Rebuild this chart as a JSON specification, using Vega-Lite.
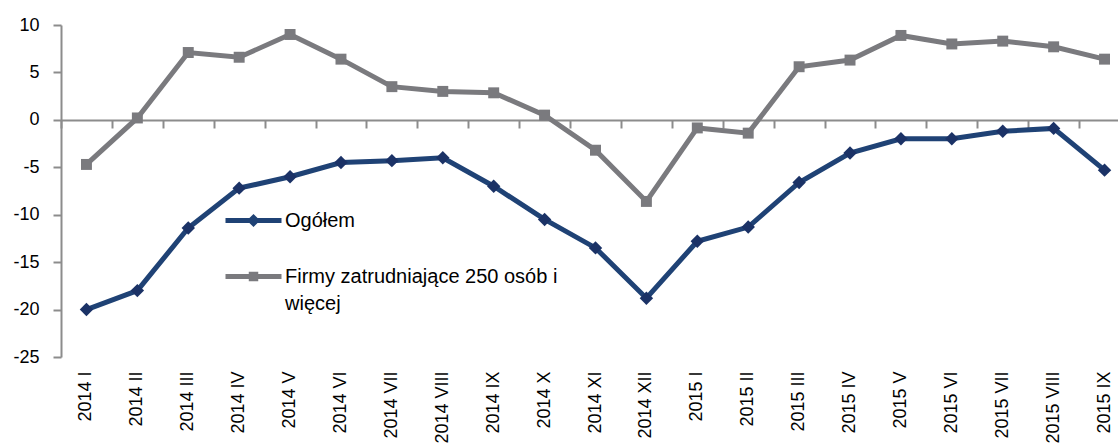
{
  "$schema": "https://vega.github.io/schema/vega-lite/v6.json",
  "autosize": {"type": "none"},
  "padding": {"left": 61, "top": 25, "right": 0, "bottom": 91},
  "width": 1057,
  "height": 332,
  "config": {
    "view": {"stroke": null},
    "font": "Liberation Sans",
    "axis": {"labelFont": "Liberation Sans", "labelFontSize": 18, "labelColor": "#000000", "domainColor": "#8C8C8C", "tickColor": "#8C8C8C", "domainWidth": 2, "tickWidth": 2, "grid": false, "title": null},
    "legend": {"labelFont": "Liberation Sans"}
  },
  "data": {
    "values": [
      {"m": "2014 I", "s": "Ogółem", "v": -20.0},
      {"m": "2014 II", "s": "Ogółem", "v": -18.0},
      {"m": "2014 III", "s": "Ogółem", "v": -11.4},
      {"m": "2014 IV", "s": "Ogółem", "v": -7.2},
      {"m": "2014 V", "s": "Ogółem", "v": -6.0},
      {"m": "2014 VI", "s": "Ogółem", "v": -4.5},
      {"m": "2014 VII", "s": "Ogółem", "v": -4.3},
      {"m": "2014 VIII", "s": "Ogółem", "v": -4.0},
      {"m": "2014 IX", "s": "Ogółem", "v": -7.0},
      {"m": "2014 X", "s": "Ogółem", "v": -10.5},
      {"m": "2014 XI", "s": "Ogółem", "v": -13.5},
      {"m": "2014 XII", "s": "Ogółem", "v": -18.8},
      {"m": "2015 I", "s": "Ogółem", "v": -12.8},
      {"m": "2015 II", "s": "Ogółem", "v": -11.3},
      {"m": "2015 III", "s": "Ogółem", "v": -6.6},
      {"m": "2015 IV", "s": "Ogółem", "v": -3.5},
      {"m": "2015 V", "s": "Ogółem", "v": -2.0},
      {"m": "2015 VI", "s": "Ogółem", "v": -2.0},
      {"m": "2015 VII", "s": "Ogółem", "v": -1.2},
      {"m": "2015 VIII", "s": "Ogółem", "v": -0.9},
      {"m": "2015 IX", "s": "Ogółem", "v": -5.3},
      {"m": "2014 I", "s": "Firmy zatrudniające 250 osób i więcej", "v": -4.7},
      {"m": "2014 II", "s": "Firmy zatrudniające 250 osób i więcej", "v": 0.2},
      {"m": "2014 III", "s": "Firmy zatrudniające 250 osób i więcej", "v": 7.1},
      {"m": "2014 IV", "s": "Firmy zatrudniające 250 osób i więcej", "v": 6.6},
      {"m": "2014 V", "s": "Firmy zatrudniające 250 osób i więcej", "v": 9.0},
      {"m": "2014 VI", "s": "Firmy zatrudniające 250 osób i więcej", "v": 6.4},
      {"m": "2014 VII", "s": "Firmy zatrudniające 250 osób i więcej", "v": 3.5},
      {"m": "2014 VIII", "s": "Firmy zatrudniające 250 osób i więcej", "v": 3.0},
      {"m": "2014 IX", "s": "Firmy zatrudniające 250 osób i więcej", "v": 2.85},
      {"m": "2014 X", "s": "Firmy zatrudniające 250 osób i więcej", "v": 0.5},
      {"m": "2014 XI", "s": "Firmy zatrudniające 250 osób i więcej", "v": -3.2},
      {"m": "2014 XII", "s": "Firmy zatrudniające 250 osób i więcej", "v": -8.6},
      {"m": "2015 I", "s": "Firmy zatrudniające 250 osób i więcej", "v": -0.85},
      {"m": "2015 II", "s": "Firmy zatrudniające 250 osób i więcej", "v": -1.4},
      {"m": "2015 III", "s": "Firmy zatrudniające 250 osób i więcej", "v": 5.6},
      {"m": "2015 IV", "s": "Firmy zatrudniające 250 osób i więcej", "v": 6.3},
      {"m": "2015 V", "s": "Firmy zatrudniające 250 osób i więcej", "v": 8.9},
      {"m": "2015 VI", "s": "Firmy zatrudniające 250 osób i więcej", "v": 8.0},
      {"m": "2015 VII", "s": "Firmy zatrudniające 250 osób i więcej", "v": 8.3},
      {"m": "2015 VIII", "s": "Firmy zatrudniające 250 osób i więcej", "v": 7.7},
      {"m": "2015 IX", "s": "Firmy zatrudniające 250 osób i więcej", "v": 6.4}
    ]
  },
  "resolve": {"axis": {"x": "independent"}},
  "layer": [
    {
      "mark": {"type": "line", "strokeWidth": 5, "strokeJoin": "miter"},
      "encoding": {
        "x": {
          "field": "m", "type": "ordinal", "sort": null, "bandPosition": 0.5,
          "scale": {"type": "band", "paddingInner": 0, "paddingOuter": 0, "range": [0, 1069]},
          "axis": {"orient": "bottom", "domain": false, "ticks": false, "labelAngle": -90, "labelPadding": 14}
        },
        "y": {
          "field": "v", "type": "quantitative",
          "scale": {"domain": [-25, 10], "nice": false, "zero": false},
          "axis": {"values": [-25, -20, -15, -10, -5, 0, 5, 10], "tickSize": 8, "labelPadding": 14, "labelExpr": "toString(datum.value)"}
        },
        "color": {
          "field": "s", "type": "nominal",
          "scale": {"domain": ["Ogółem", "Firmy zatrudniające 250 osób i więcej"], "range": ["#1F4275", "#7A7A7E"]},
          "legend": {
            "title": null, "orient": "none", "legendX": 162, "legendY": 165, "padding": 0,
            "symbolSize": 3136, "symbolStrokeWidth": 5, "rowPadding": 12, "labelOffset": 1,
            "labelFontSize": 20, "labelColor": "#000000", "labelLimit": 600, "labelBaseline": "middle",
            "labelExpr": "datum.value == 'Ogółem' ? datum.value : ['Firmy zatrudniające 250 osób i', 'więcej']",
            "encode": {
              "labels": {"update": {"lineHeight": {"value": 27}}},
              "symbols": {
                "update": {
                  "shape": {"signal": "datum.value == 'Ogółem' ? 'M-1,0H1M0,-0.11L0.11,0L0,0.11L-0.11,0Z' : 'M-1,0H1M-0.08,-0.08H0.08V0.08H-0.08Z'"},
                  "fill": {"signal": "datum.value == 'Ogółem' ? '#1B3266' : '#7A7A7E'"},
                  "stroke": {"signal": "datum.value == 'Ogółem' ? '#1F4275' : '#7A7A7E'"},
                  "strokeWidth": {"value": 5},
                  "opacity": {"value": 1}
                }
              }
            }
          }
        }
      }
    },
    {
      "transform": [{"filter": "datum.s == 'Ogółem'"}],
      "mark": {"type": "point", "filled": true, "opacity": 1, "strokeWidth": 0, "shape": "diamond", "size": 180, "color": "#1B3266"},
      "encoding": {
        "x": {
          "field": "m", "type": "ordinal", "sort": null, "bandPosition": 0.5,
          "axis": {"orient": "top", "offset": -95, "labels": false, "domain": true, "ticks": true, "tickSize": -8, "tickBand": "extent"}
        },
        "y": {"field": "v", "type": "quantitative"}
      }
    },
    {
      "transform": [{"filter": "datum.s != 'Ogółem'"}],
      "mark": {"type": "point", "filled": true, "opacity": 1, "strokeWidth": 0, "shape": "square", "size": 120, "color": "#7A7A7E"},
      "encoding": {
        "x": {"field": "m", "type": "ordinal", "sort": null, "bandPosition": 0.5, "axis": null},
        "y": {"field": "v", "type": "quantitative"}
      }
    }
  ]
}
